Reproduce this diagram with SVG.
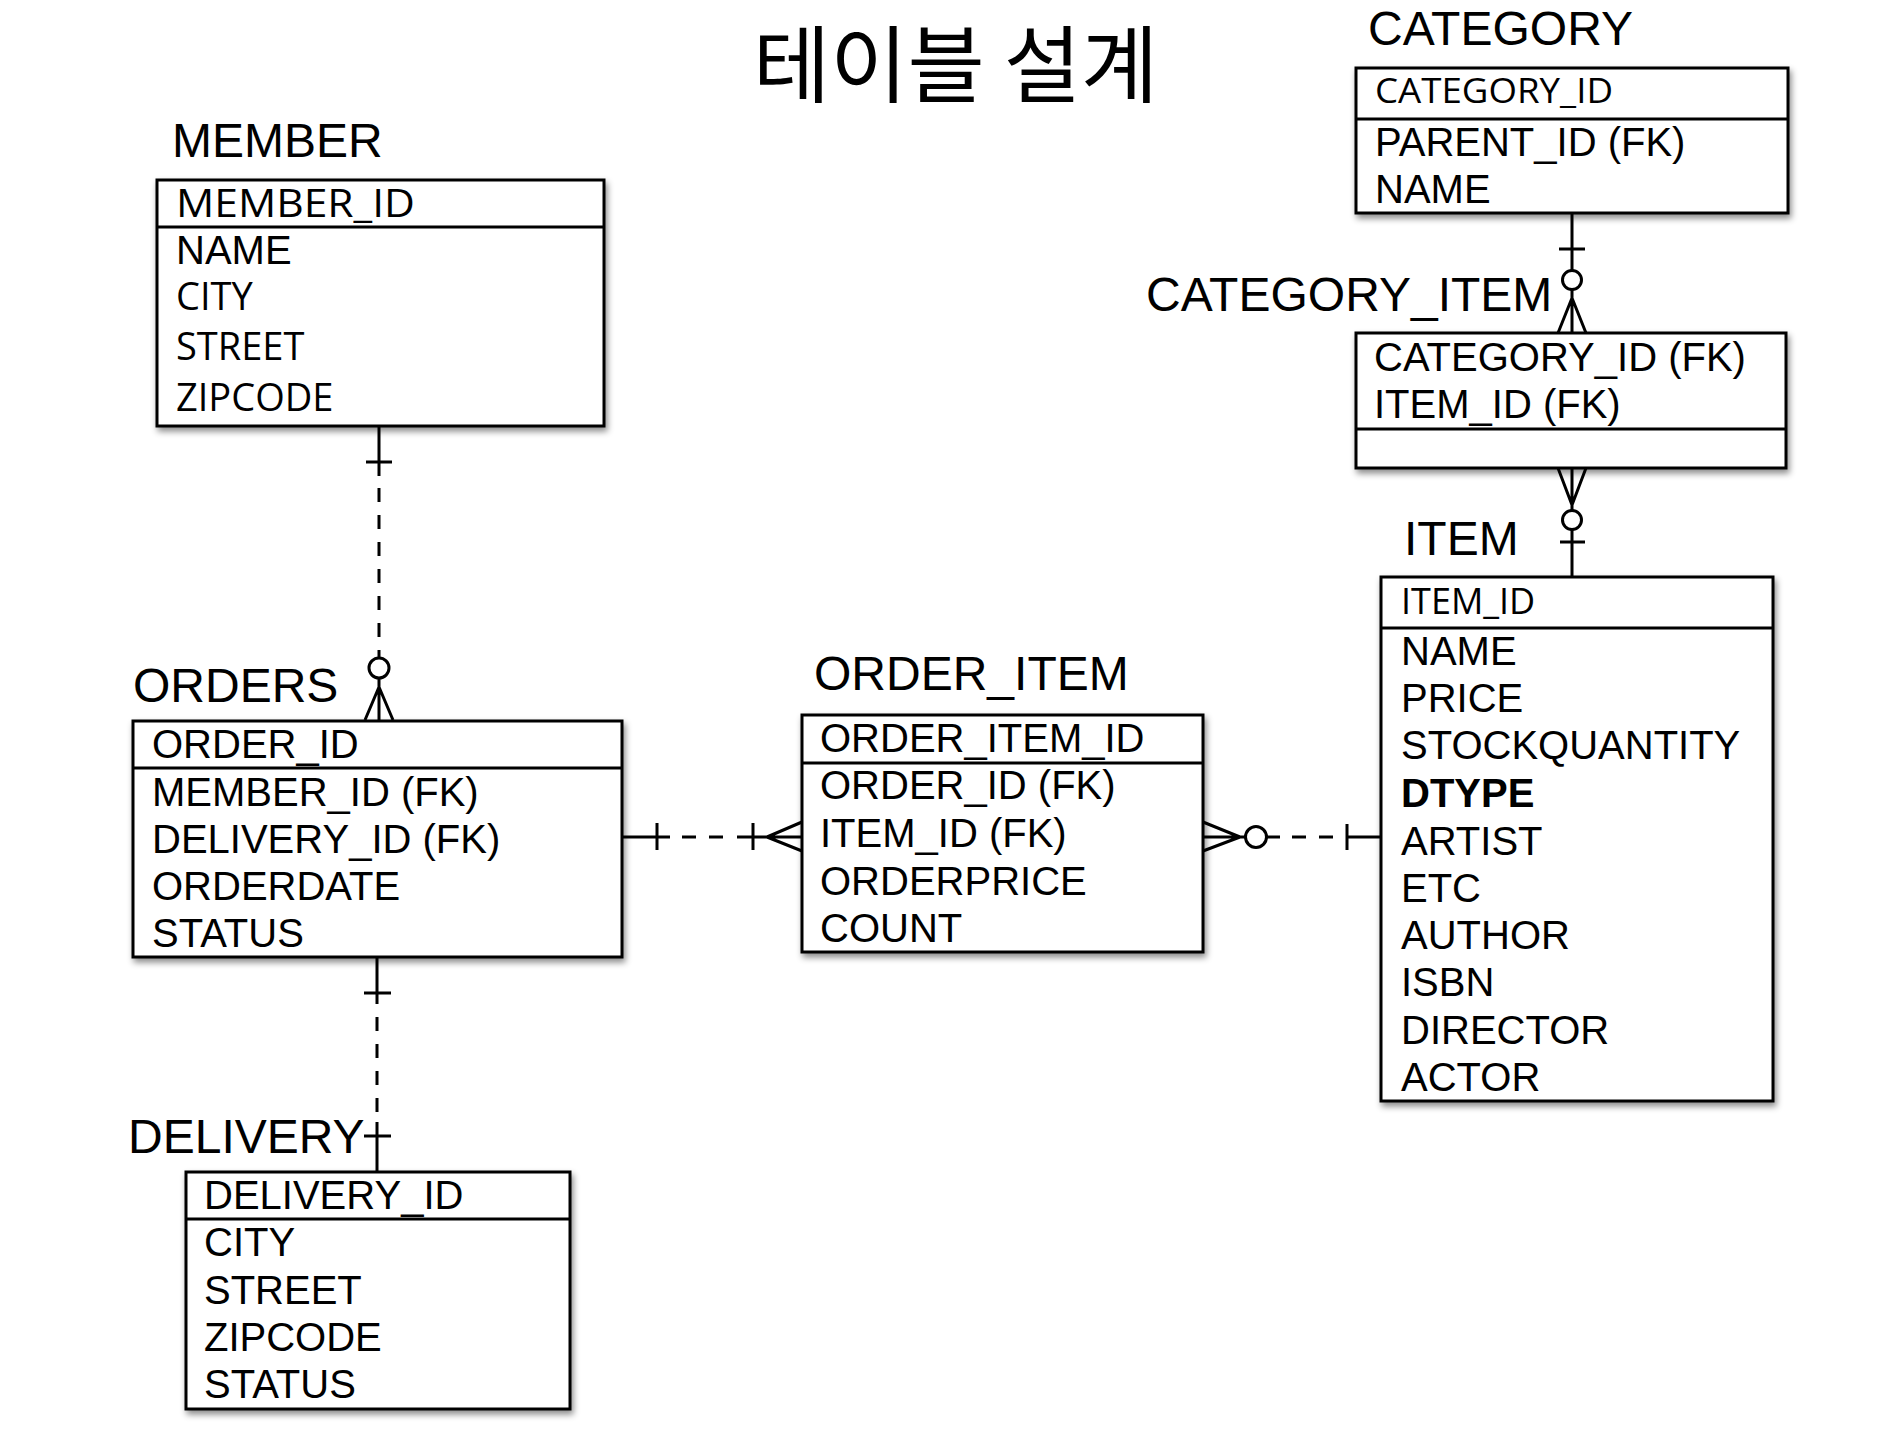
<svg xmlns="http://www.w3.org/2000/svg" width="1890" height="1432" viewBox="0 0 1890 1432">
<defs>
<filter id="sh" x="-5%" y="-5%" width="112%" height="115%">
<feDropShadow dx="2" dy="4" stdDeviation="3" flood-color="#000" flood-opacity="0.45"/>
</filter>
<style>
.box{fill:#fff;stroke:#000;stroke-width:3;filter:url(#sh)}
.dv{stroke:#000;stroke-width:3}
.t{font-family:"Liberation Sans",Arial,sans-serif;font-size:48px;fill:#000}
.r{font-family:"Liberation Sans",Arial,sans-serif;font-size:40px;fill:#000}
.o{font-family:"Open Sans","DejaVu Sans",sans-serif;font-size:38px;fill:#000}
.b{font-weight:bold}
.c{stroke:#000;stroke-width:3;fill:none}
.dash{stroke-dasharray:14 13}
.ci{stroke:#000;stroke-width:3;fill:#fff}
.h{font-family:"Noto Sans CJK KR","Noto Sans",sans-serif;font-size:84px;fill:#000}
</style>
</defs>
<rect width="1890" height="1432" fill="#fff"/>
<text class="h" x="753" y="96">테이블 설계</text>

<g id="connectors">
<!-- MEMBER - ORDERS -->
<path class="c" d="M379 427V476M366 462H392"/>
<path class="c dash" d="M379 488V640"/>
<path class="c" d="M379 650V658M379 678V720M379 687L365 720M379 687L393 720"/>
<circle class="ci" cx="379" cy="668" r="10"/>
<!-- ORDERS - DELIVERY -->
<path class="c" d="M377 957V1004M364 993H391"/>
<path class="c dash" d="M377 1017V1112"/>
<path class="c" d="M377 1122V1172M364 1136H391"/>
<!-- ORDERS - ORDER_ITEM -->
<path class="c" d="M622 837H670M657 823V850"/>
<path class="c dash" d="M682 837H730"/>
<path class="c" d="M737 837H802M753 823V850M767 837L802 822M767 837L802 851"/>
<!-- ORDER_ITEM - ITEM -->
<path class="c" d="M1203 837H1245.5M1203 822L1240 837M1203 851L1240 837M1266.5 837H1280"/>
<circle class="ci" cx="1256" cy="837" r="10.5"/>
<path class="c dash" d="M1292 837H1334"/>
<path class="c" d="M1347 837H1381M1347 824V850"/>
<!-- CATEGORY - CATEGORY_ITEM -->
<path class="c" d="M1572 213V270.5M1559 249H1585M1572 289.5V333M1572 298L1558 333M1572 298L1586 333"/>
<circle class="ci" cx="1572" cy="280" r="9.5"/>
<!-- CATEGORY_ITEM - ITEM -->
<path class="c" d="M1572 468V510.5M1558 468L1572 505M1586 468L1572 505M1572 529.5V577M1560 542H1585"/>
<circle class="ci" cx="1572" cy="520" r="9.5"/>
</g>

<g id="member">
<text class="t" x="172" y="157">MEMBER</text>
<rect class="box" x="157" y="180" width="447" height="246"/>
<line class="dv" x1="157" y1="227" x2="604" y2="227"/>
<text class="o" x="176" y="217" textLength="239" lengthAdjust="spacingAndGlyphs">MEMBER_ID</text>
<text class="r" x="176" y="264">NAME</text>
<text class="o" x="176" y="310">CITY</text>
<text class="o" x="176" y="360">STREET</text>
<text class="o" x="176" y="411">ZIPCODE</text>
</g>

<g id="orders">
<text class="t" x="133" y="702">ORDERS</text>
<rect class="box" x="133" y="721" width="489" height="236"/>
<line class="dv" x1="133" y1="768" x2="622" y2="768"/>
<text class="r" x="152" y="758">ORDER_ID</text>
<text class="r" x="152" y="806">MEMBER_ID (FK)</text>
<text class="r" x="152" y="853">DELIVERY_ID (FK)</text>
<text class="r" x="152" y="900">ORDERDATE</text>
<text class="r" x="152" y="947">STATUS</text>
</g>

<g id="delivery">
<text class="t" x="128" y="1153">DELIVERY</text>
<rect class="box" x="186" y="1172" width="384" height="237"/>
<line class="dv" x1="186" y1="1219" x2="570" y2="1219"/>
<text class="r" x="204" y="1209">DELIVERY_ID</text>
<text class="r" x="204" y="1256">CITY</text>
<text class="r" x="204" y="1304">STREET</text>
<text class="r" x="204" y="1351">ZIPCODE</text>
<text class="r" x="204" y="1398">STATUS</text>
</g>

<g id="order_item">
<text class="t" x="814" y="690">ORDER_ITEM</text>
<rect class="box" x="802" y="715" width="401" height="237"/>
<line class="dv" x1="802" y1="763" x2="1203" y2="763"/>
<text class="r" x="820" y="752">ORDER_ITEM_ID</text>
<text class="r" x="820" y="799">ORDER_ID (FK)</text>
<text class="r" x="820" y="847">ITEM_ID (FK)</text>
<text class="r" x="820" y="895">ORDERPRICE</text>
<text class="r" x="820" y="942">COUNT</text>
</g>

<g id="category">
<text class="t" x="1368" y="45">CATEGORY</text>
<rect class="box" x="1356" y="68" width="432" height="145"/>
<line class="dv" x1="1356" y1="119" x2="1788" y2="119"/>
<text class="o" x="1375" y="103" style="font-size:35px" textLength="238" lengthAdjust="spacingAndGlyphs">CATEGORY_ID</text>
<text class="r" x="1375" y="156">PARENT_ID (FK)</text>
<text class="r" x="1375" y="203">NAME</text>
</g>

<g id="category_item">
<text class="t" x="1146" y="311">CATEGORY_ITEM</text>
<rect class="box" x="1356" y="333" width="430" height="135"/>
<line class="dv" x1="1356" y1="429" x2="1786" y2="429"/>
<text class="r" x="1374" y="371">CATEGORY_ID (FK)</text>
<text class="r" x="1374" y="418">ITEM_ID (FK)</text>
</g>

<g id="item">
<text class="t" x="1404" y="555">ITEM</text>
<rect class="box" x="1381" y="577" width="392" height="524"/>
<line class="dv" x1="1381" y1="628" x2="1773" y2="628"/>
<text class="o" x="1401" y="614" style="font-size:36px">ITEM_ID</text>
<text class="r" x="1401" y="665">NAME</text>
<text class="r" x="1401" y="712">PRICE</text>
<text class="r" x="1401" y="759">STOCKQUANTITY</text>
<text class="r b" x="1401" y="807">DTYPE</text>
<text class="r" x="1401" y="855">ARTIST</text>
<text class="r" x="1401" y="902">ETC</text>
<text class="r" x="1401" y="949">AUTHOR</text>
<text class="r" x="1401" y="996">ISBN</text>
<text class="r" x="1401" y="1044">DIRECTOR</text>
<text class="r" x="1401" y="1091">ACTOR</text>
</g>
</svg>
